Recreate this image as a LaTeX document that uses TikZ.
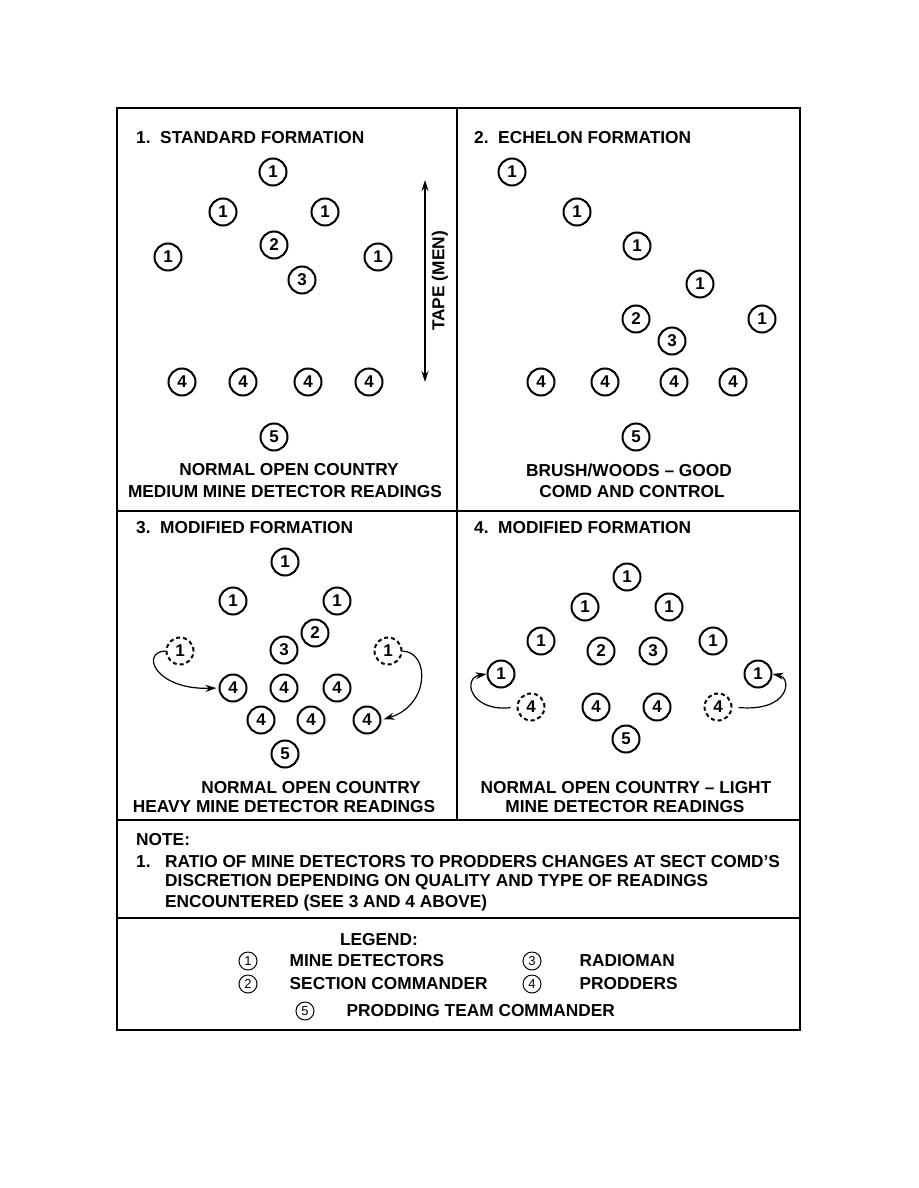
\documentclass[tikz,border=0pt]{standalone}
\usepackage{fontspec}
\setmainfont{Liberation Sans}
\usetikzlibrary{arrows.meta, positioning}

\newcommand{\capfont}{\fontsize{17.3}{20}\selectfont\bfseries}
\newcommand{\numfont}{\fontsize{17}{17}\selectfont\bfseries}

\begin{document}
\begin{tikzpicture}[
    x=1pt, y=-1pt,
    man/.style={circle, draw, line width=2pt, minimum size=27pt, inner sep=0pt, font=\numfont},
    spare/.style={man, dashed, dash pattern=on 4pt off 3pt},
    legsym/.style={circle, draw, line width=1pt, minimum size=18pt, inner sep=0pt, font=\fontsize{13}{13}\selectfont},
    head/.style={anchor=west, font=\capfont, inner sep=0pt},
    caption/.style={font=\capfont, inner sep=0pt},
    frame/.style={line width=2.8pt},
    divider/.style={line width=2pt},
    move/.style={line width=1.2pt, -{Stealth[length=11pt, width=7pt]}}
]
\useasboundingbox (0,0) rectangle (918,1188);

% frame and dividers
\draw[frame] (117,108) rectangle (800,1030);
\draw[divider] (457,108) -- (457,820);
\draw[divider] (117,511) -- (800,511);
\draw[divider] (117,820) -- (800,820);
\draw[divider] (117,918) -- (800,918);

% 1. standard formation
\node[head] (t1) at (136,138) {1.\ \ STANDARD FORMATION};
\node[man] (s1a) at (273,172) {1};
\node[man] (s1b) at (223,212) {1};
\node[man] (s1c) at (325,212) {1};
\node[man] (s1d) at (168,257) {1};
\node[man] (s1e) at (378,257) {1};
\node[man] (s2) at (274,245) {2};
\node[man] (s3) at (302,280) {3};
\node[man] (s4a) at (182,382) {4};
\node[man] (s4b) at (243,382) {4};
\node[man] (s4c) at (308,382) {4};
\node[man] (s4d) at (369,382) {4};
\node[man] (s5) at (274,437) {5};
\coordinate (tapetop) at (425,180);
\coordinate (tapebot) at (425,382);
\draw[line width=1.2pt, {Stealth[length=11pt, width=7pt]}-{Stealth[length=11pt, width=7pt]}] (tapetop) -- (tapebot);
\node[caption, rotate=90] (tape) at (440,281) {TAPE (MEN)};
\node[caption] (c1a) at (289,470) {NORMAL OPEN COUNTRY};
\node[caption] (c1b) at (285,492) {MEDIUM MINE DETECTOR READINGS};

% 2. echelon formation
\node[head] (t2) at (474,138) {2.\ \ ECHELON FORMATION};
\node[man] (e1a) at (512,172) {1};
\node[man] (e1b) at (577,212) {1};
\node[man] (e1c) at (637,246) {1};
\node[man] (e1d) at (700,284) {1};
\node[man] (e1e) at (762,319) {1};
\node[man] (e2) at (636,319) {2};
\node[man] (e3) at (672,341) {3};
\node[man] (e4a) at (541,382) {4};
\node[man] (e4b) at (605,382) {4};
\node[man] (e4c) at (674,382) {4};
\node[man] (e4d) at (733,382) {4};
\node[man] (e5) at (636,437) {5};
\node[caption] (c2a) at (629,470) {BRUSH/WOODS -- GOOD};
\node[caption] (c2b) at (632,492) {COMD AND CONTROL};

% 3. modified formation (heavy readings)
\node[head] (t3) at (136,528) {3.\ \ MODIFIED FORMATION};
\node[man] (h1a) at (285,562) {1};
\node[man] (h1b) at (233,601) {1};
\node[man] (h1c) at (337,601) {1};
\node[man] (h2) at (315,633) {2};
\node[man] (h3) at (284,650) {3};
\node[spare] (h1l) at (180,651) {1};
\node[spare] (h1r) at (388,651) {1};
\node[man] (h4a) at (233,688) {4};
\node[man] (h4b) at (284,688) {4};
\node[man] (h4c) at (337,688) {4};
\node[man] (h4d) at (261,720) {4};
\node[man] (h4e) at (311,720) {4};
\node[man] (h4f) at (367,720) {4};
\node[man] (h5) at (285,754) {5};
\draw[move, shorten >=2pt] (h1l.west) .. controls (140,652) and (155,690) .. (h4a.west);
\draw[move, shorten >=2pt] (h1r.east) .. controls (430,652) and (430,705) .. (h4f.east);
\node[caption] (c3a) at (311,788) {NORMAL OPEN COUNTRY};
\node[caption] (c3b) at (284,807) {HEAVY MINE DETECTOR READINGS};

% 4. modified formation (light readings)
\node[head] (t4) at (474,528) {4.\ \ MODIFIED FORMATION};
\node[man] (l1a) at (627,577) {1};
\node[man] (l1b) at (585,607) {1};
\node[man] (l1c) at (669,607) {1};
\node[man] (l1d) at (541,641) {1};
\node[man] (l1e) at (713,641) {1};
\node[man] (l2) at (601,651) {2};
\node[man] (l3) at (653,651) {3};
\node[man] (l1l) at (501,674) {1};
\node[man] (l1r) at (758,674) {1};
\node[spare] (l4a) at (531,707) {4};
\node[man] (l4b) at (596,707) {4};
\node[man] (l4c) at (657,707) {4};
\node[spare] (l4d) at (718,707) {4};
\node[man] (l5) at (626,739) {5};
\draw[move, shorten <=6pt] (l4a.west) .. controls (470,712) and (462,678) .. (l1l.west);
\draw[move, shorten <=6pt] (l4d.east) .. controls (790,712) and (792,678) .. (l1r.east);
\node[caption] (c4a) at (626,788) {NORMAL OPEN COUNTRY -- LIGHT};
\node[caption] (c4b) at (625,807) {MINE DETECTOR READINGS};

% note
\node[head] (note) at (136,840) {NOTE:};
\node[head] (n1) at (136,862) {1.};
\node[head] (n1a) at (165,862) {RATIO OF MINE DETECTORS TO PRODDERS CHANGES AT SECT COMD'S};
\node[head] (n1b) at (165,882) {DISCRETION DEPENDING ON QUALITY AND TYPE OF READINGS};
\node[head] (n1c) at (165,903) {ENCOUNTERED (SEE 3 AND 4 ABOVE)};

% legend
\node[caption] (leg) at (379,940) {LEGEND:};
\node[legsym] (k1) at (248,961) {1};
\node[head, right=32pt of k1] (k1t) {MINE DETECTORS};
\node[legsym] (k2) at (248,984) {2};
\node[head, right=32pt of k2] (k2t) {SECTION COMMANDER};
\node[legsym] (k3) at (532,961) {3};
\node[head, right=38pt of k3] (k3t) {RADIOMAN};
\node[legsym] (k4) at (532,984) {4};
\node[head, right=38pt of k4] (k4t) {PRODDERS};
\node[legsym] (k5) at (305,1011) {5};
\node[head, right=32pt of k5] (k5t) {PRODDING TEAM COMMANDER};

\end{tikzpicture}
\end{document}
